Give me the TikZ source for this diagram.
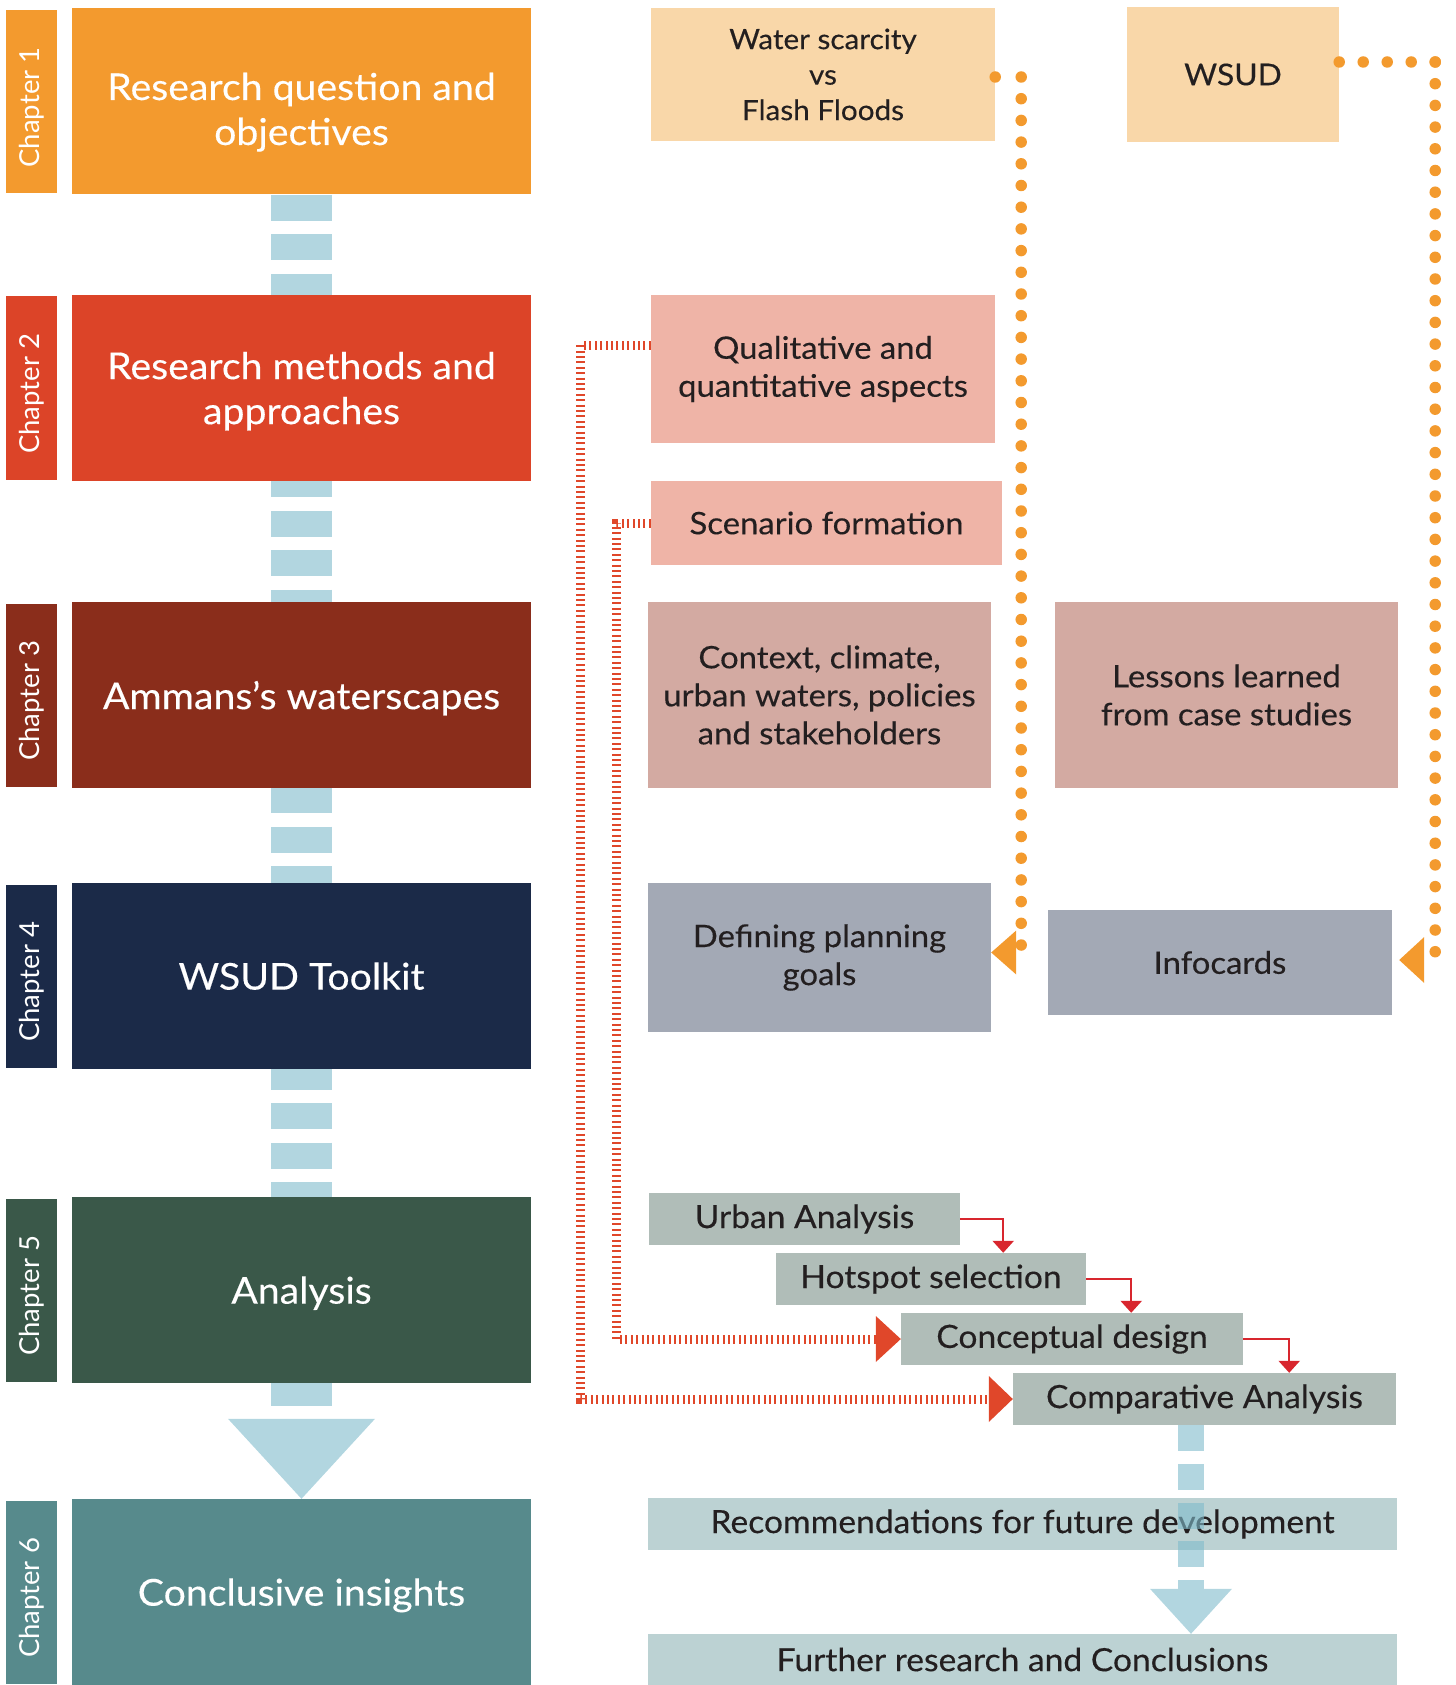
\documentclass[tikz,border=0pt]{standalone}
\usepackage{fontspec}
\setmainfont{Lato}
\newfontfamily\widefont[FakeStretch=1.06,FakeBold=0.25]{Lato}
\newfontfamily\stepfont[FakeStretch=1.05,FakeBold=0.25]{Lato}
\usetikzlibrary{arrows.meta,positioning,calc,backgrounds}
\definecolor{chone}{HTML}{F39A2E}
\definecolor{chtwo}{HTML}{DC4428}
\definecolor{chthree}{HTML}{8A2D1B}
\definecolor{chfour}{HTML}{1B2A48}
\definecolor{chfive}{HTML}{3A5849}
\definecolor{chsix}{HTML}{578A8C}
\definecolor{sand}{HTML}{F9D7A9}
\definecolor{rose}{HTML}{EFB4A7}
\definecolor{mauve}{HTML}{D3AAA2}
\definecolor{slate}{HTML}{A3A9B5}
\definecolor{sage}{HTML}{B0BDB8}
\definecolor{mist}{HTML}{BCD2D3}
\definecolor{flowblue}{HTML}{B2D6E0}
\definecolor{flowdeep}{HTML}{7FBBCB}
\definecolor{dotorange}{HTML}{F39A2E}
\definecolor{hatchred}{HTML}{E0472A}
\definecolor{stepred}{HTML}{D8262E}
\definecolor{ink}{HTML}{231F20}
\tikzset{
  chbox/.style={minimum width=459pt, minimum height=186pt, inner sep=0pt, text depth=-3pt, text=white, align=center, font=\widefont\fontsize{37}{45}\selectfont},
  chtab/.style={rotate=90, minimum width=183pt, minimum height=51pt, inner sep=0pt, text=white, font=\fontsize{27.5}{30}\selectfont},
  infobox/.style={inner sep=0pt, text=ink, align=center, font=\widefont\fontsize{31}{38}\selectfont},
  stepbox/.style={inner sep=0pt, text=ink, align=center, minimum height=52pt, font=\stepfont\fontsize{32}{36}\selectfont},
  flowdash/.style={draw=flowblue, line width=61pt, dash pattern=on 26pt off 13.5pt},
  flowfront/.style={draw=flowdeep, draw opacity=0.6, line width=26pt, dash pattern=on 26pt off 12.7pt},
  orangedots/.style={draw=dotorange, line width=11.5pt, line cap=round, dash pattern=on 0pt off #1},
  hatch/.style={draw=hatchred, line width=9pt, dash pattern=on 2pt off 3.4pt},
  steparrow/.style={draw=stepred, line width=2.5pt, -{Triangle[length=12pt,width=21pt]}}
}
\begin{document}
\begin{tikzpicture}[x=1pt,y=-1pt]
  \useasboundingbox (0,0) rectangle (1455,1685);

  % chapters
  \node[chbox, fill=chone] (ch1) at (301.5,101.5) {\rule{0pt}{42pt}Research question and\\objectives};
  \node[chbox, fill=chtwo] (ch2) at (301.5,388) {Research methods and\\approaches};
  \node[chbox, fill=chthree] (ch3) at (301.5,695) {Ammans’s waterscapes};
  \node[chbox, fill=chfour] (ch4) at (301.5,976) {WSUD Toolkit};
  \node[chbox, fill=chfive] (ch5) at (301.5,1290) {Analysis};
  \node[chbox, fill=chsix] (ch6) at (301.5,1592) {Conclusive insights};

  \node[chtab, fill=chone] (t1) at (31.5,101.5) {Chapter 1\hspace*{12pt}};
  \node[chtab, fill=chtwo] (t2) at (31.5,388) {Chapter 2\hspace*{12pt}};
  \node[chtab, fill=chthree] (t3) at (31.5,695) {Chapter 3\hspace*{12pt}};
  \node[chtab, fill=chfour] (t4) at (31.5,976) {Chapter 4\hspace*{12pt}};
  \node[chtab, fill=chfive] (t5) at (31.5,1290) {Chapter 5\hspace*{12pt}};
  \node[chtab, fill=chsix] (t6) at (31.5,1592) {Chapter 6\hspace*{12pt}};

  \begin{scope}[on background layer]
    \draw[flowdash] (ch1.south) -- ($(ch5.south)+(0,23)$);
  \end{scope}
  \fill[flowblue] ($(ch6.north)+(-73.5,-80)$) -- ($(ch6.north)+(73.5,-80)$) -- (ch6.north) -- cycle;

  % themes
  \node[infobox, fill=sand, minimum width=344pt, minimum height=133pt, font=\widefont\fontsize{28}{35.5}\selectfont] (water) at (823,74.5) {Water scarcity\\vs\\Flash Floods};
  \node[infobox, fill=sand, minimum width=212pt, minimum height=135pt, font=\widefont\fontsize{30}{38}\selectfont] (wsud) at (1233,74.5) {WSUD};
  \node[infobox, fill=rose, minimum width=344pt, minimum height=148pt] (qual) at (823,369) {Qualitative and\\quantitative aspects};
  \node[infobox, fill=rose, minimum width=351pt, minimum height=84pt] (scen) at (826.5,523) {Scenario formation};
  \node[infobox, fill=mauve, minimum width=343pt, minimum height=186pt] (context) at (819.5,695) {Context, climate,\\urban waters, policies\\and stakeholders};
  \node[infobox, fill=mauve, minimum width=343pt, minimum height=186pt] (lessons) at (1226.5,695) {Lessons learned\\from case studies};
  \node[infobox, fill=slate, minimum width=343pt, minimum height=149pt] (defining) at (819.5,957.5) {Defining planning\\goals};
  \node[infobox, fill=slate, minimum width=344pt, minimum height=105pt] (infocards) at (1220,962.5) {Infocards};

  % analysis steps
  \node[stepbox, fill=sage, minimum width=311pt] (urban) at (804.5,1219) {Urban Analysis};
  \node[stepbox, fill=sage, minimum width=310pt] (hotspot) at (931,1279) {Hotspot selection};
  \node[stepbox, fill=sage, minimum width=342pt] (concept) at (1072,1339) {Conceptual design};
  \node[stepbox, fill=sage, minimum width=383pt] (compar) at (1204.5,1399) {Comparative Analysis};
  \node[stepbox, fill=mist, minimum width=749pt] (recom) at (1022.5,1524) {Recommendations for future development};
  \node[stepbox, fill=mist, minimum width=749pt, minimum height=51pt] (further) at (1022.5,1659.5) {Further research and Conclusions};

  \draw[steparrow] (urban.east) -- ++(43,0) coordinate (s1) -- (s1 |- hotspot.north);
  \draw[steparrow] (hotspot.east) -- ++(45,0) coordinate (s2) -- (s2 |- concept.north);
  \draw[steparrow] (concept.east) -- ++(46,0) coordinate (s3) -- (s3 |- compar.north);

  \coordinate (cd) at ($(compar.south)+(-13.5,0)$);
  \draw[flowfront] (cd) -- ($(cd |- further.north)+(0,-39)$);
  \fill[flowblue] ($(cd |- further.north)+(-41,-45)$) -- ++(82,0) -- (cd |- further.north) -- cycle;

  % dotted links
  \coordinate (wc) at ($(water.east)+(26,2.5)$);
  \coordinate (dtip) at ($(defining.east)+(0,-5)$);
  \draw[orangedots=26pt] ($(water.east)+(0,2.5)$) -- (wc);
  \draw[orangedots=21.7pt] (wc) -- (wc |- dtip);
  \fill[dotorange] (dtip) -- ++(25,-22) -- ++(0,44) -- cycle;

  \coordinate (ws) at ($(wsud.east)+(0,-12.5)$);
  \coordinate (wc2) at ($(ws)+(96,0)$);
  \coordinate (itip) at ($(infocards.east)+(7,-2.5)$);
  \draw[orangedots=24pt] (ws) -- (wc2);
  \draw[orangedots=21.7pt] (wc2) -- (wc2 |- itip);
  \fill[dotorange] (itip) -- ++(25,-23) -- ++(0,46) -- cycle;

  % hatched links
  \draw[hatch] ($(qual.west)+(0,-24)$) -- ++(-70,0) |- ($(compar.west)+(-24,0)$);
  \fill[hatchred] (compar.west) -- ++(-24,-23) -- ++(0,46) -- cycle;
  \draw[hatch] (scen.west) -- ++(-34,0) |- ($(concept.west)+(-25,0)$);
  \fill[hatchred] (concept.west) -- ++(-25,-23) -- ++(0,46) -- cycle;
\end{tikzpicture}
\end{document}
